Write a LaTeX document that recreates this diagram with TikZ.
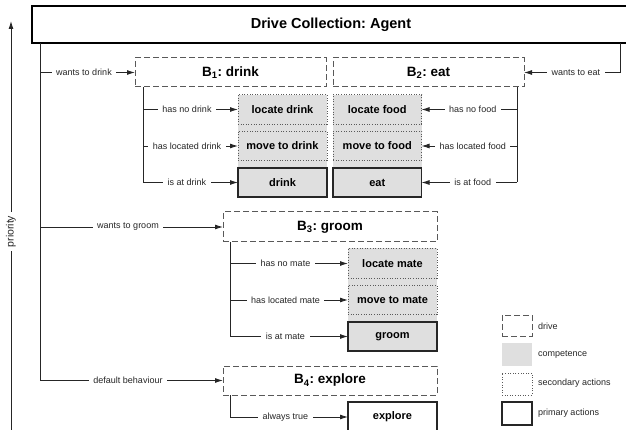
\documentclass[tikz,border=0pt]{standalone}
\usepackage{fontspec}
\setmainfont{Liberation Sans}
\usetikzlibrary{arrows.meta}
\begin{document}
\frenchspacing
\begin{tikzpicture}[x=1pt,y=-1pt,
  every node/.style={inner sep=0pt, outer sep=0pt},
  ln/.style={line width=0.9pt, draw=black!85},
  arr/.style={ln, -{Latex[length=8pt,width=5pt]}},
  lbl/.style={fill=white, inner xsep=4.5pt, inner ysep=1pt, text=black!85, font=\fontsize{9}{10}\selectfont},
  legtxt/.style={anchor=west, text=black!85, font=\fontsize{9}{10}\selectfont},
  agentbox/.style={draw=black, line width=2.5pt, fill=white, font=\fontsize{14.5}{16}\selectfont\bfseries},
  drivebox/.style={draw=black!65, line width=1pt, dash pattern=on 6pt off 3pt, fill=white, font=\fontsize{13.5}{15}\selectfont\bfseries},
  secbox/.style={draw=black!65, line width=0.9pt, dash pattern=on 1pt off 1.6pt, font=\fontsize{11}{13}\selectfont\bfseries},
  primbox/.style={draw=black!85, line width=1.8pt, font=\fontsize{11}{13}\selectfont\bfseries},
  comp/.style={fill=gray!25},
  colbox/.style={minimum width=89pt, minimum height=29.5pt}
]
\useasboundingbox (0,0) rectangle (626,430);
\clip (0,0) rectangle (626,430);

% priority axis
\coordinate (pb) at (11,432);
\coordinate (pt) at (11,21);
\draw[arr] (pb) -- (pt);
\node[lbl, rotate=90, inner xsep=4pt, font=\fontsize{10.5}{12}\selectfont] (prio) at (11,231.5) {priority};

% drive collection
\node[agentbox, minimum width=598pt, minimum height=37pt] (agent) at (331,24.5) {Drive Collection: Agent};

% drives
\node[drivebox, minimum width=191pt, minimum height=29pt] (b1) at (230.5,72.5) {B\textsubscript{1}: drink};
\node[drivebox, minimum width=191pt, minimum height=29pt] (b2) at (428.5,72.5) {B\textsubscript{2}: eat};
\node[drivebox, minimum width=214pt, minimum height=30pt] (b3) at (330,227) {B\textsubscript{3}: groom};
\node[drivebox, minimum width=214pt, minimum height=29pt] (b4) at (330,380.5) {B\textsubscript{4}: explore};

% competences
\node[comp, minimum width=89pt, minimum height=102pt] (c1) at (282.5,146) {};
\node[comp, minimum width=88.5pt, minimum height=102pt] (c2) at (377.25,146) {};
\node[comp, minimum width=89pt, minimum height=103pt] (c3) at (392.5,300) {};

% actions
\node[secbox, colbox] (d1) at (282.5,109.5) {locate drink};
\node[secbox, colbox] (d2) at (282.5,146) {move to drink};
\node[primbox, colbox, fill=gray!25] (d3) at (282.5,182.5) {drink};
\node[secbox, colbox, minimum width=88.5pt] (f1) at (377.25,109.5) {locate food};
\node[secbox, colbox, minimum width=88.5pt] (f2) at (377.25,146) {move to food};
\node[primbox, colbox, minimum width=88.5pt, fill=gray!25] (f3) at (377.25,182.5) {eat};
\node[secbox, colbox] (m1) at (392.5,263.5) {locate mate};
\node[secbox, colbox] (m2) at (392.5,300) {move to mate};
\node[primbox, colbox, fill=gray!25] (m3) at (392.5,336.5) {groom};
\node[primbox, colbox, minimum height=30pt, fill=white] (e1) at (392.5,417) {explore};

% spine of drive collection
\coordinate (sl) at (40,0);
\coordinate (sr) at (620.7,0);
\draw[ln] (agent.south -| sl) -- (sl |- b4.west);
\draw[arr] (sl |- b1.west) -- node[lbl, xshift=-3.5pt] {wants to drink} (b1.west);
\draw[arr] (sl |- b3.west) -- node[lbl, xshift=-3.5pt] {wants to groom} (b3.west);
\draw[arr] (sl |- b4.west) -- node[lbl, xshift=-3.5pt] {default behaviour} (b4.west);
\draw[ln] (agent.south -| sr) -- (sr |- b2.east);
\draw[arr] (sr |- b2.east) -- node[lbl, xshift=3.5pt] {wants to eat} (b2.east);

% B1 branches
\coordinate (s1) at (143,0);
\draw[ln] (b1.south -| s1) -- (s1 |- d3.west);
\draw[arr] (s1 |- d1.west) -- node[lbl, xshift=-3.5pt] {has no drink} (d1.west);
\draw[arr] (s1 |- d2.west) -- node[lbl, xshift=-3.5pt] {has located drink} (d2.west);
\draw[arr] (s1 |- d3.west) -- node[lbl, xshift=-3.5pt] {is at drink} (d3.west);

% B2 branches
\coordinate (s2) at (517,0);
\draw[ln] (b2.south -| s2) -- (s2 |- f3.east);
\draw[arr] (s2 |- f1.east) -- node[lbl, xshift=3.5pt] {has no food} (f1.east);
\draw[arr] (s2 |- f2.east) -- node[lbl, xshift=3.5pt] {has located food} (f2.east);
\draw[arr] (s2 |- f3.east) -- node[lbl, xshift=3.5pt] {is at food} (f3.east);

% B3 branches
\coordinate (s3) at (230,0);
\draw[ln] (b3.south -| s3) -- (s3 |- m3.west);
\draw[arr] (s3 |- m1.west) -- node[lbl, xshift=-3.5pt] {has no mate} (m1.west);
\draw[arr] (s3 |- m2.west) -- node[lbl, xshift=-3.5pt] {has located mate} (m2.west);
\draw[arr] (s3 |- m3.west) -- node[lbl, xshift=-3.5pt] {is at mate} (m3.west);

% B4 branch
\draw[ln] (b4.south -| s3) -- (s3 |- e1.west);
\draw[arr] (s3 |- e1.west) -- node[lbl, xshift=-3.5pt] {always true} (e1.west);

% legend
\node[drivebox, minimum width=30pt, minimum height=21pt] (lg1) at (517,325.5) {};
\node[comp, minimum width=30pt, minimum height=23pt] (lg2) at (517,354.5) {};
\node[secbox, minimum width=30pt, minimum height=22pt] (lg3) at (517,384) {};
\node[primbox, minimum width=30pt, minimum height=23pt] (lg4) at (517,413.5) {};
\node[legtxt] (lt1) at (538,326) {drive};
\node[legtxt] (lt2) at (538,355) {competence};
\node[legtxt] (lt3) at (538,382.7) {secondary actions};
\node[legtxt] (lt4) at (538,413.3) {primary actions};
\end{tikzpicture}
\end{document}
